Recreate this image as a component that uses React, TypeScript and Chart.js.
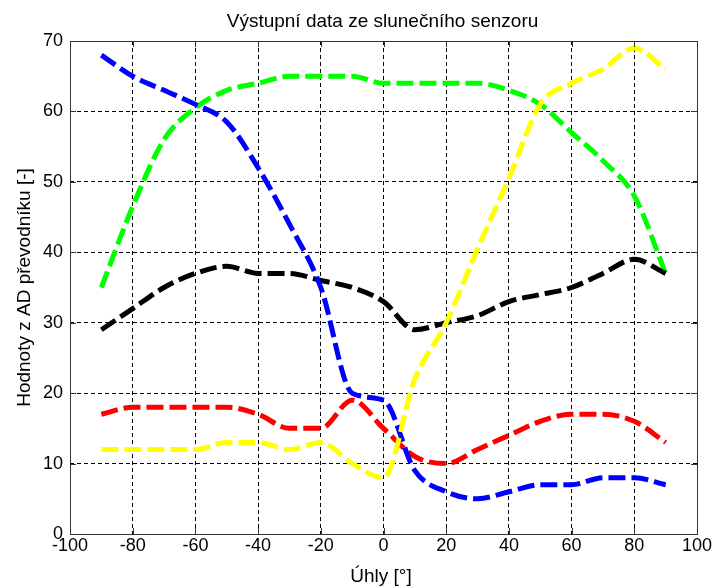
import React, { useEffect, useRef } from "react";
import { Chart, registerables } from "chart.js";

Chart.register(...registerables);

const angles = [-90, -80, -70, -60, -50, -40, -30, -20, -10, 0, 10, 20, 30, 40, 50, 60, 70, 80, 90];
const yellowValues = [12, 12, 12, 12, 13, 13, 12, 13, 10, 8, 22, 30, 40.5, 50.5, 61, 64, 66, 69, 66];
const blueValues = [68, 65, 63, 61, 58.5, 52, 44, 35, 20, 19, 9, 6, 5, 6, 7, 7, 8, 8, 7];
const redValues = [17, 18, 18, 18, 18, 17, 15, 15, 19, 15, 11, 10, 12, 14, 16, 17, 17, 16, 13];
const blackValues = [29, 32, 35, 37, 38, 37, 37, 36, 35, 33, 29, 30, 31, 33, 34, 35, 37, 39, 37];
const greenValues = [35, 46.5, 56, 60.5, 63, 64, 65, 65, 65, 64, 64, 64, 64, 63, 61, 57, 53, 48, 37];

const xTicks = [-100, -80, -60, -40, -20, 0, 20, 40, 60, 80, 100];
const yTicks = [0, 10, 20, 30, 40, 50, 60, 70];

const titleText = "Výstupní data ze slunečního senzoru";
const xLabel = "Úhly [°]";
const yLabel = "Hodnoty z AD převodníku [-]";

const FONT = "'Liberation Sans', Arial, sans-serif";

const series = [
  { values: yellowValues, color: "#ffff00" },
  { values: blueValues, color: "#0000ff" },
  { values: redValues, color: "#ff0000" },
  { values: blackValues, color: "#000000" },
  { values: greenValues, color: "#00ff00" },
];

const decorPlugin = {
  id: "matlabDecor",
  afterDraw(chart: any) {
    const { ctx, chartArea } = chart;
    const xs = chart.scales.x;
    const ys = chart.scales.y;
    const { left, right, top, bottom } = chartArea;
    ctx.save();
    ctx.strokeStyle = "#333";
    ctx.lineWidth = 1;
    ctx.setLineDash([]);
    ctx.strokeRect(Math.round(left) + 0.5, Math.round(top) + 0.5, Math.round(right - left), Math.round(bottom - top));
    const tl = 6;
    ctx.beginPath();
    xTicks.forEach((v) => {
      const px = Math.round(xs.getPixelForValue(v)) + 0.5;
      ctx.moveTo(px, bottom);
      ctx.lineTo(px, bottom - tl);
      ctx.moveTo(px, top);
      ctx.lineTo(px, top + tl);
    });
    yTicks.forEach((v) => {
      const py = Math.round(ys.getPixelForValue(v)) + 0.5;
      ctx.moveTo(left, py);
      ctx.lineTo(left + tl, py);
      ctx.moveTo(right, py);
      ctx.lineTo(right - tl, py);
    });
    ctx.stroke();
    ctx.fillStyle = "#000";
    ctx.font = `19px ${FONT}`;
    ctx.textAlign = "center";
    ctx.textBaseline = "alphabetic";
    ctx.fillText(titleText, 382.5, 27);
    ctx.fillText(xLabel, 381, 582);
    ctx.translate(29.5, 287.5);
    ctx.rotate(-Math.PI / 2);
    ctx.fillText(yLabel, 0, 0);
    ctx.restore();
  },
};

export default function App() {
  const ref = useRef<HTMLCanvasElement | null>(null);

  useEffect(() => {
    if (!ref.current) return;
    const chart = new Chart(ref.current, {
      type: "line",
      data: {
        datasets: series.map((s) => ({
          data: angles.map((a, i) => ({ x: a, y: s.values[i] })),
          borderColor: s.color,
          backgroundColor: s.color,
          borderWidth: 5,
          borderDash: [17, 6],
          borderCapStyle: "butt",
          pointRadius: 0,
          fill: false,
          cubicInterpolationMode: "monotone",
        })),
      },
      plugins: [decorPlugin],
      options: {
        animation: false,
        responsive: false,
        devicePixelRatio: 1,
        layout: { padding: { left: 0, top: 41, right: 17, bottom: 0 } },
        plugins: {
          legend: { display: false },
          title: { display: false },
          tooltip: { enabled: false },
        },
        scales: {
          x: {
            type: "linear",
            min: -100,
            max: 100,
            afterFit: (scale: any) => {
              scale.height = 54;
            },
            afterBuildTicks: (scale: any) => {
              scale.ticks = xTicks.map((v) => ({ value: v }));
            },
            ticks: {
              color: "#000",
              font: { family: FONT, size: 18 },
              padding: 1,
              maxRotation: 0,
              autoSkip: false,
            },
            grid: { color: "#000", lineWidth: 1, drawTicks: false },
            border: { display: false, dash: [4, 3] },
          },
          y: {
            type: "linear",
            min: 0,
            max: 70,
            afterFit: (scale: any) => {
              scale.width = 70;
            },
            afterBuildTicks: (scale: any) => {
              scale.ticks = yTicks.map((v) => ({ value: v }));
            },
            ticks: {
              color: "#000",
              font: { family: FONT, size: 18 },
              padding: 7,
              autoSkip: false,
            },
            grid: { color: "#000", lineWidth: 1, drawTicks: false },
            border: { display: false, dash: [4, 3] },
          },
        },
      },
    });
    return () => chart.destroy();
  }, []);

  return (
    <div style={{ position: "absolute", left: 0, top: 0, width: 714, height: 588, background: "#fff" }}>
      <canvas ref={ref} width={714} height={588} style={{ display: "block" }} />
    </div>
  );
}
